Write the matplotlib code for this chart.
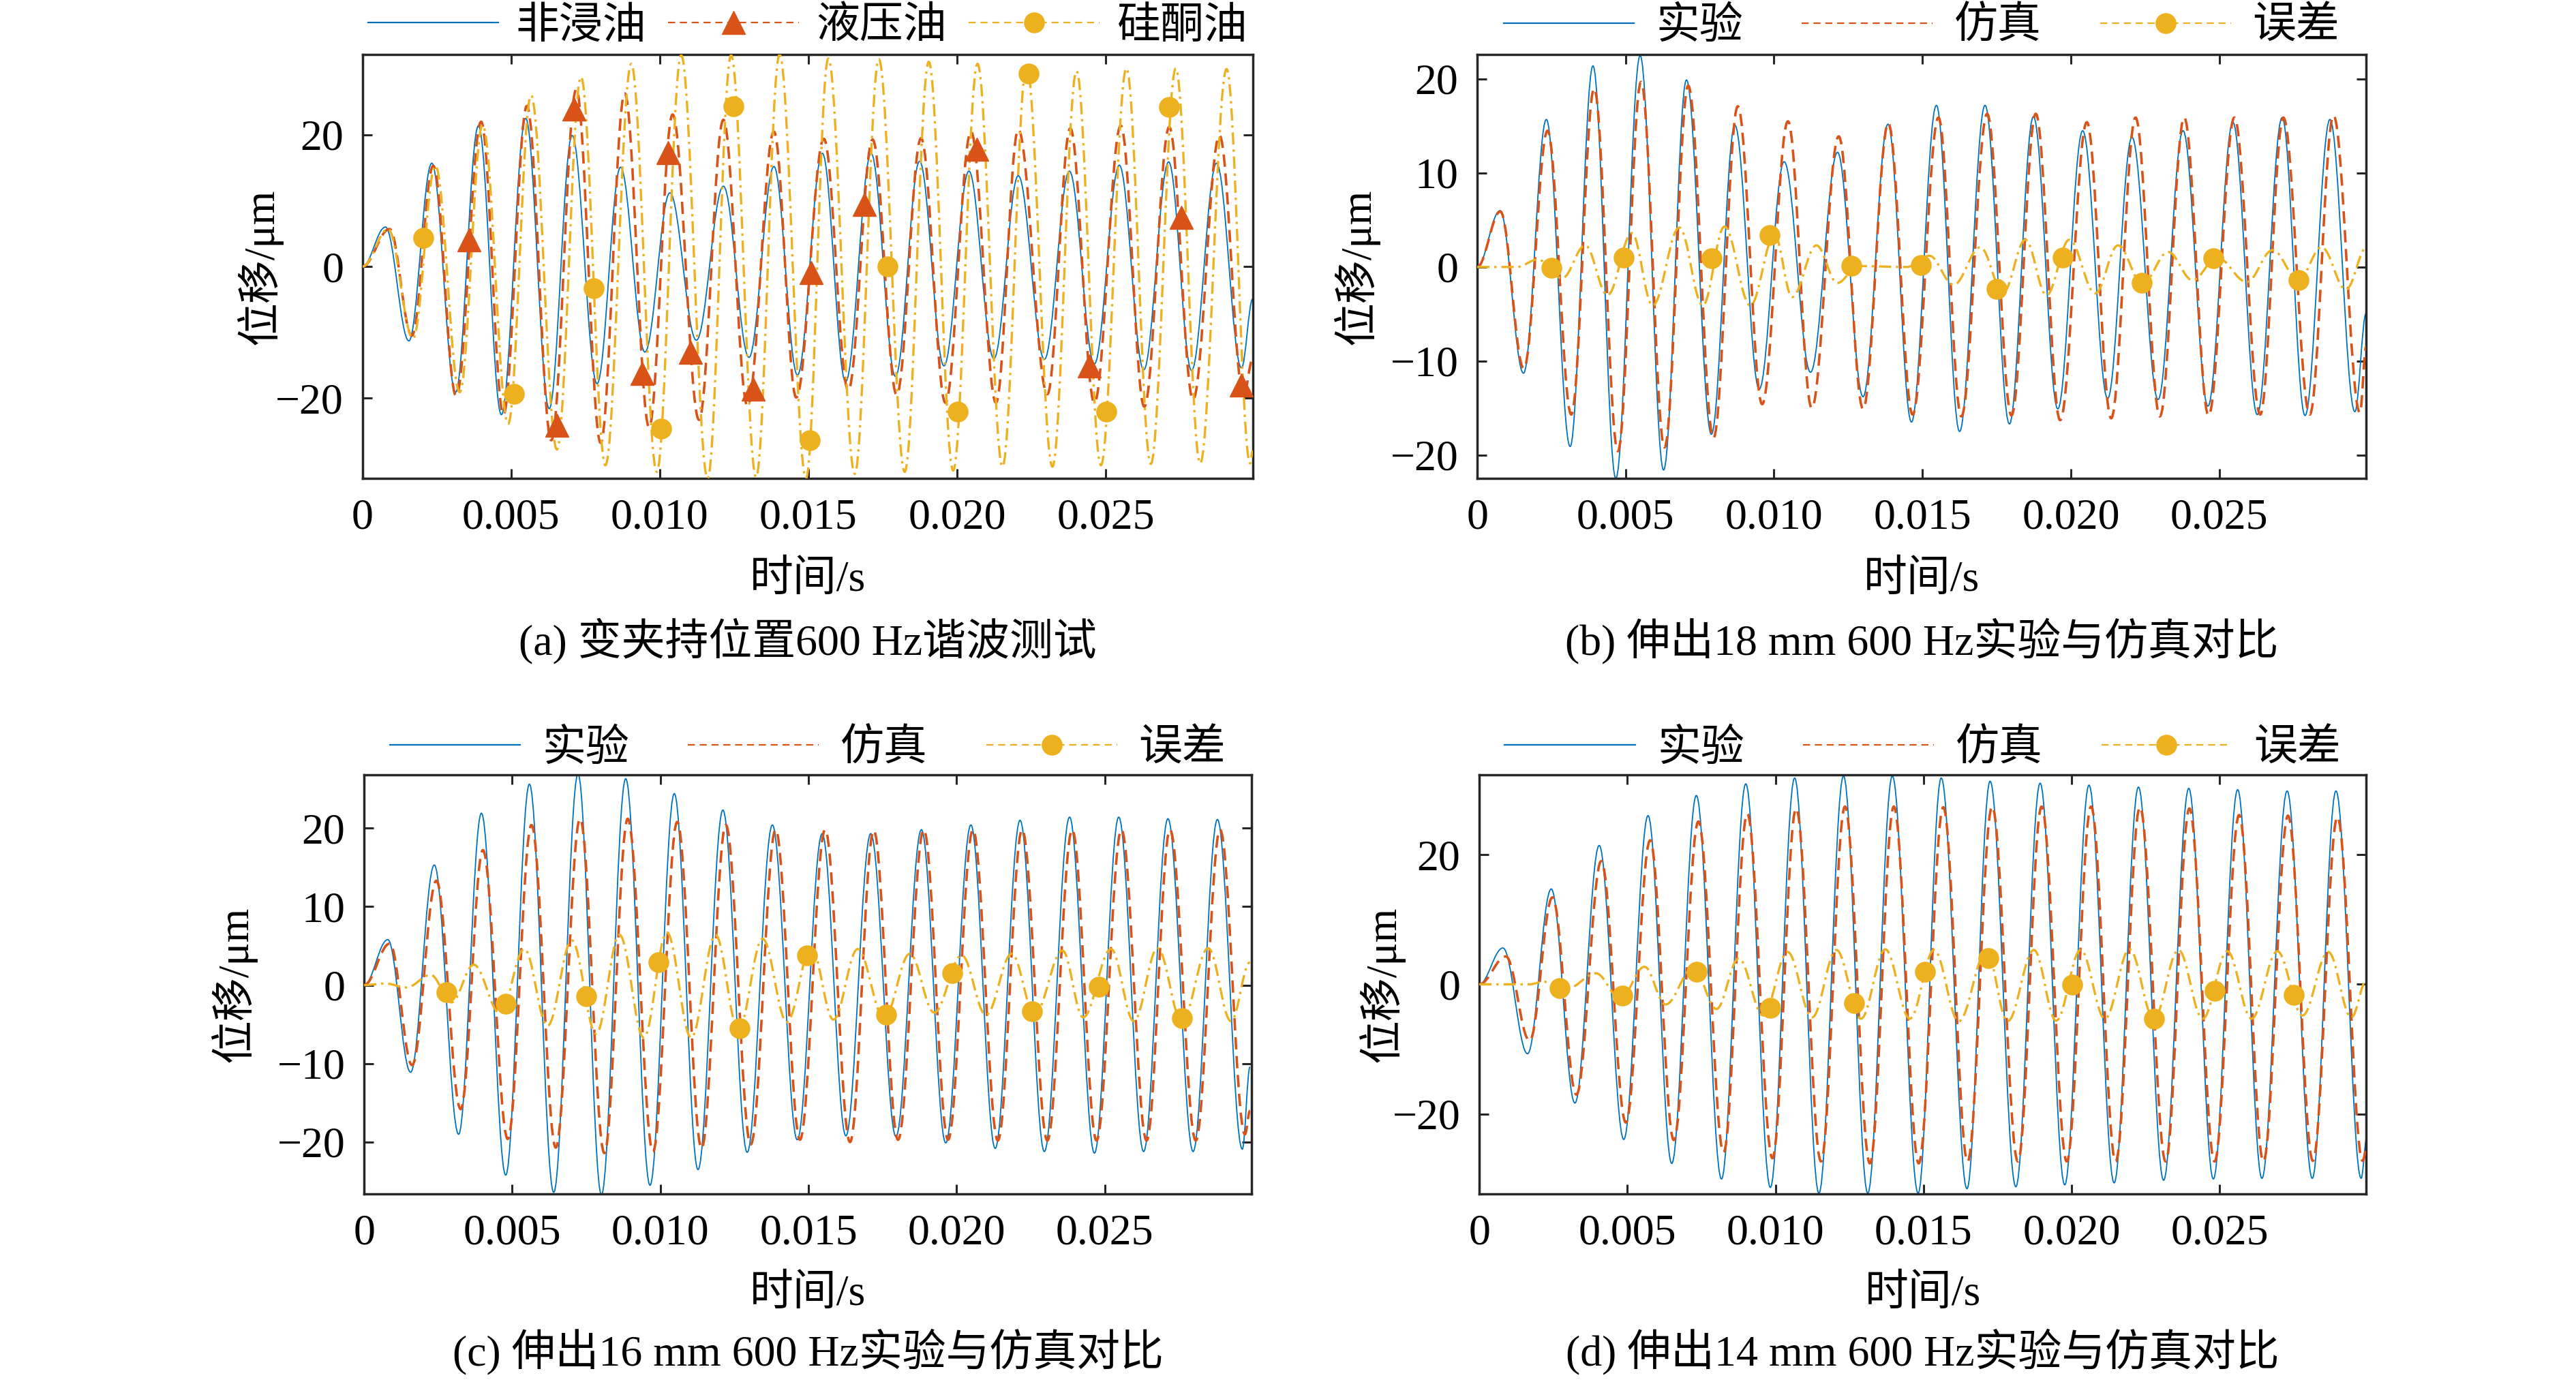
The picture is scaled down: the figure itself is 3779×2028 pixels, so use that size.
import numpy as np
import matplotlib
matplotlib.use("Agg")
import matplotlib.pyplot as plt
from matplotlib.path import Path
from matplotlib.patches import PathPatch
from matplotlib.lines import Line2D

plt.rcParams['font.family'] = ['Liberation Serif', 'Noto Sans CJK SC']
plt.rcParams['font.size'] = 46
plt.rcParams['axes.unicode_minus'] = True
plt.rcParams['lines.scale_dashes'] = False

BLUE = '#0072BD'
RED = '#D95319'
YEL = '#EDB120'
AX_C = '#262626'

# ---- data: extrema of each trace (time in ms, displacement in um) ----
# 18 mm, no oil (shared by panel a "非浸油" and panel b "实验")
t_exp18 = [0, 0.77, 1.56, 2.33, 3.13, 3.90, 4.67, 5.49, 6.28, 7.05, 7.89, 8.68, 9.50, 10.34, 11.23,
           12.14, 13.00, 13.84, 14.63, 15.47, 16.25, 17.11, 17.93, 18.74, 19.56, 20.40, 21.24, 22.06,
           22.94, 23.78, 24.62, 25.46, 26.28, 27.12, 27.89, 28.73, 29.57, 29.95]
y_exp18 = [0, 6.0, -11.3, 15.7, -19.1, 21.4, -22.5, 22.5, -21.6, 19.9, -17.8, 15.1, -13.0, 11.2, -11.2,
           12.2, -13.8, 15.2, -16.5, 17.2, -17.5, 17.2, -16.7, 16.0, -15.1, 14.5, -14.0, 13.8,
           -14.1, 14.5, -14.8, 15.4, -15.7, 15.9, -15.8, 15.7, -15.4, -4.9]

# panel a: hydraulic oil / silicone oil
t_hyd = [0, 0.91, 1.66, 2.38, 3.15, 3.99, 4.74, 5.53, 6.35, 7.19, 8.01, 8.82, 9.64, 10.43, 11.32,
         12.14, 12.95, 13.84, 14.59, 15.52, 16.34, 17.16, 17.97, 18.79, 19.61, 20.47, 21.31, 22.06,
         23.04, 23.81, 24.62, 25.51, 26.30, 27.14, 27.94, 28.83, 29.64, 29.95]
y_hyd = [0, 5.7, -10.5, 15.3, -19.7, 22.0, -22.5, 24.4, -26.4, 26.9, -26.8, 26.3, -24.4, 23.1, -23.3,
         22.3, -21.2, 20.5, -19.9, 19.4, -18.8, 19.3, -19.5, 19.5, -20.7, 20.5, -20.7, 20.8,
         -19.4, 21.0, -20.7, 21.4, -21.3, 21.2, -20.2, 19.9, -19.6, -14.0]
t_hyd_mk = [3.57, 6.54, 7.12, 9.41, 10.27, 11.04, 13.14, 15.10, 16.88, 20.66, 24.44, 27.54, 29.57]
y_hyd_mk = [4.1, -24.1, 23.9, -16.2, 17.3, -13.0, -18.6, -0.9, 9.4, 17.8, -15.1, 7.5, -18.0]

t_sil = [0, 0.86, 1.70, 2.45, 3.27, 4.04, 4.90, 5.67, 6.54, 7.35, 8.17, 9.04, 9.90, 10.72, 11.61,
         12.40, 13.24, 14.03, 14.92, 15.67, 16.56, 17.37, 18.24, 19.05, 19.87, 20.69, 21.53, 22.34,
         23.21, 24.02, 24.84, 25.70, 26.52, 27.36, 28.18, 29.07, 29.86, 29.95]
y_sil = [0, 5.7, -10.9, 15.3, -19.1, 21.5, -23.9, 26.0, -27.8, 28.8, -30.2, 30.8, -31.2, 32.1, -32.2,
         32.1, -32.0, 32.2, -32.2, 31.6, -31.5, 31.5, -31.2, 31.1, -31.0, 30.8, -30.4, 30.5,
         -30.4, 29.7, -30.2, 30.1, -30.0, 30.1, -29.9, 30.0, -29.9, -28.0]
t_sil_mk = [2.05, 5.09, 7.77, 10.04, 12.49, 15.05, 17.67, 20.03, 22.41, 25.02, 27.14]
y_sil_mk = [4.4, -19.3, -3.3, -24.6, 24.3, -26.4, 0.0, -22.0, 29.3, -22.0, 24.2]

# panel b: 18 mm simulation / error
t_sim18 = [0, 0.78, 1.57, 2.37, 3.17, 3.94, 4.74, 5.52, 6.31, 7.11, 7.96, 8.78, 9.60, 10.47, 11.27,
           12.18, 13.00, 13.85, 14.67, 15.54, 16.31, 17.18, 18.00, 18.82, 19.64, 20.54, 21.36, 22.18,
           23.00, 23.82, 24.64, 25.51, 26.38, 27.16, 28.05, 28.85, 29.74, 29.95]
y_sim18 = [0, 5.9, -10.8, 14.5, -15.7, 19.0, -19.6, 19.7, -19.2, 19.3, -18.2, 17.1, -14.6, 15.5, -15.0,
           13.9, -15.1, 15.3, -15.7, 15.9, -15.9, 16.3, -15.8, 16.3, -16.3, 15.4, -16.1, 15.9,
           -15.9, 15.9, -15.8, 15.9, -15.7, 15.9, -15.7, 16.1, -15.5, -8.5]
t_err18 = [0, 1.34, 2.04, 2.86, 3.64, 4.39, 5.21, 5.91, 6.81, 7.60, 8.33, 9.20, 10.02, 10.61, 11.43,
           12.13, 12.84, 14.48, 15.23, 16.05, 16.95, 17.72, 18.47, 19.18, 19.95, 20.82, 21.59, 22.41,
           23.28, 24.10, 24.93, 25.93, 26.80, 27.67, 28.45, 29.27, 29.97]
y_err18 = [0, 0.0, 0.8, -1.2, 2.3, -3.0, 3.6, -4.1, 4.2, -4.1, 4.3, -4.1, 3.4, -3.2, 2.3,
           -1.7, 0.1, 0.0, 1.2, -1.9, 2.1, -2.7, 2.9, -3.0, 2.9, -2.8, 2.3, -1.8,
           1.6, -1.4, 1.0, -1.6, 1.8, -1.4, 2.1, -2.4, 2.1]
t_err18_mk = [2.51, 4.93, 7.89, 9.86, 12.60, 14.95, 17.49, 19.72, 22.39, 24.81, 27.67]
y_err18_mk = [-0.1, 1.0, 0.9, 3.4, 0.1, 0.2, -2.3, 1.0, -1.7, 0.9, -1.4]

# panel c: 16 mm
t_exp16 = [0, 0.80, 1.57, 2.37, 3.19, 3.96, 4.78, 5.58, 6.40, 7.22, 8.01, 8.83, 9.65, 10.47, 11.27,
           12.11, 12.93, 13.78, 14.62, 15.46, 16.26, 17.10, 17.95, 18.81, 19.63, 20.48, 21.30, 22.14,
           22.96, 23.81, 24.65, 25.47, 26.31, 27.13, 27.98, 28.80, 29.64, 29.90]
y_exp16 = [0, 5.8, -11.1, 15.3, -19.0, 21.9, -24.2, 25.6, -26.4, 26.9, -26.7, 26.3, -25.5, 24.4, -23.5,
           22.3, -21.3, 20.4, -19.7, 19.3, -19.2, 19.3, -19.3, 19.8, -20.1, 20.4, -20.8, 21.0,
           -21.2, 21.4, -21.4, 21.4, -21.2, 21.2, -21.2, 21.1, -20.9, -10.4]
t_sim16 = [0, 0.87, 1.62, 2.44, 3.26, 4.01, 4.85, 5.65, 6.47, 7.29, 8.11, 8.90, 9.75, 10.57, 11.39,
           12.21, 13.05, 13.89, 14.71, 15.56, 16.40, 17.20, 18.02, 18.89, 19.71, 20.55, 21.39, 22.21,
           23.06, 23.90, 24.72, 25.56, 26.41, 27.20, 28.07, 28.89, 29.73, 29.90]
y_sim16 = [0, 5.3, -10.2, 13.3, -15.8, 17.2, -19.6, 20.4, -20.7, 21.2, -21.4, 21.2, -21.2, 20.8, -20.8,
           20.4, -20.3, 19.8, -19.7, 19.8, -20.0, 19.7, -19.7, 19.8, -19.7, 19.8, -19.8, 19.8,
           -19.8, 19.8, -19.8, 19.8, -19.8, 19.8, -19.8, 19.8, -19.0, -16.0]
t_err16 = [0, 0.73, 1.43, 2.25, 2.95, 3.70, 4.59, 5.41, 6.19, 7.01, 7.83, 8.62, 9.44, 10.22, 11.04,
           11.86, 12.63, 13.45, 14.27, 15.09, 15.84, 16.66, 17.55, 18.42, 19.24, 20.17, 20.99, 21.86,
           22.63, 23.57, 24.27, 25.21, 25.98, 26.78, 27.60, 28.49, 29.26, 29.90]
y_err16 = [0, 0.2, -0.3, 1.3, -2.2, 2.6, -3.6, 4.6, -5.2, 5.7, -6.2, 6.4, -6.7, 6.7, -6.7,
           6.4, -5.7, 5.9, -4.7, 4.8, -4.4, 4.6, -4.2, 4.0, -3.5, 3.8, -3.8, 4.0,
           -3.7, 4.4, -4.1, 4.6, -4.6, 4.7, -4.6, 4.7, -4.6, 2.9]
t_err16_mk = [2.79, 4.78, 7.50, 9.93, 12.68, 14.95, 17.62, 19.85, 22.54, 24.79, 27.60]
y_err16_mk = [-0.9, -2.4, -1.4, 2.9, -5.5, 3.8, -3.8, 1.5, -3.3, -0.2, -4.2]

# panel d: 14 mm
t_exp14 = [0, 0.80, 1.63, 2.43, 3.23, 4.05, 4.88, 5.70, 6.50, 7.33, 8.18, 9.00, 9.83, 10.65, 11.47,
           12.30, 13.12, 13.95, 14.82, 15.60, 16.47, 17.25, 18.12, 18.94, 19.77, 20.59, 21.44, 22.26,
           23.11, 23.96, 24.79, 25.61, 26.43, 27.28, 28.13, 28.93, 29.78, 29.97]
y_exp14 = [0, 5.6, -10.7, 14.7, -18.3, 21.4, -23.9, 26.0, -27.6, 29.1, -30.0, 30.9, -31.3, 31.8, -32.2,
           32.1, -32.2, 32.1, -32.2, 31.8, -31.5, 31.3, -31.2, 31.0, -30.9, 30.7, -30.6, 30.4,
           -30.2, 30.2, -30.0, 30.0, -29.9, 29.8, -29.9, 29.8, -29.9, -23.7]
t_sim14 = [0, 0.90, 1.70, 2.47, 3.28, 4.12, 4.95, 5.77, 6.57, 7.40, 8.25, 9.05, 9.90, 10.70, 11.54,
           12.35, 13.19, 14.00, 14.84, 15.67, 16.49, 17.32, 18.19, 18.99, 19.84, 20.66, 21.49, 22.31,
           23.18, 23.98, 24.83, 25.66, 26.48, 27.31, 28.15, 28.98, 29.83, 29.97]
y_sim14 = [0, 4.3, -8.7, 13.4, -17.0, 19.0, -21.3, 22.2, -24.0, 25.1, -25.9, 26.3, -26.8, 27.1, -27.3,
           27.4, -27.6, 27.4, -27.6, 27.3, -27.3, 27.4, -27.3, 27.4, -27.3, 27.4, -27.3, 27.3,
           -27.3, 27.1, -27.3, 26.1, -27.3, 26.0, -27.2, 25.8, -27.2, -25.3]
t_err14 = [0, 1.70, 2.17, 2.99, 3.94, 4.76, 5.58, 6.29, 7.23, 8.01, 8.76, 9.59, 10.41, 11.24, 12.06,
           12.89, 13.71, 14.54, 15.36, 16.19, 17.13, 17.84, 18.73, 19.48, 20.31, 21.13, 21.96, 22.78,
           23.61, 24.43, 25.26, 26.08, 26.95, 27.80, 28.67, 29.45, 29.97]
y_err14 = [0, 0.0, 0.4, -0.6, 1.7, -2.2, 2.7, -3.1, 2.6, -3.8, 4.0, -4.8, 5.0, -5.1, 5.3,
           -5.3, 5.4, -5.3, 5.3, -5.7, 5.1, -5.7, 5.3, -5.6, 5.3, -5.3, 5.4, -5.3,
           5.3, -5.3, 5.1, -5.3, 5.1, -4.8, 5.0, -5.1, 0.7]
t_err14_mk = [2.71, 4.83, 7.35, 9.83, 12.65, 15.06, 17.20, 20.03, 22.78, 24.83, 27.50]
y_err14_mk = [-0.6, -1.7, 1.9, -3.6, -2.9, 1.9, 4.0, -0.1, -5.3, -1.0, -1.6]

xticks = [0, 0.005, 0.010, 0.015, 0.020, 0.025]
xticklabels = ['0', '0.005', '0.010', '0.015', '0.020', '0.025']
captions = ['(a) 变夹持位置600 Hz谐波测试', '(b) 伸出18 mm 600 Hz实验与仿真对比',
            '(c) 伸出16 mm 600 Hz实验与仿真对比', '(d) 伸出14 mm 600 Hz实验与仿真对比']

STY_BLUE = dict(color=BLUE, lw=1.3, ls='-')
STY_RED = dict(color=RED, lw=2.6, ls=(0, (13, 7)))
STY_YEL = dict(color=YEL, lw=2.4, ls=(0, (13, 5, 2.5, 5)))
K = 0.3634  # bezier handle giving a half-cosine between extrema


def wave(ax, t_ms, y, sty, z):
    t = np.asarray(t_ms) / 1000.0
    y = np.asarray(y, dtype=float)
    verts = [(t[0], y[0])]
    codes = [Path.MOVETO]
    for i in range(len(t) - 1):
        dt = t[i + 1] - t[i]
        verts += [(t[i] + K * dt, y[i]), (t[i + 1] - K * dt, y[i + 1]), (t[i + 1], y[i + 1])]
        codes += [Path.CURVE4] * 3
    p = PathPatch(Path(verts, codes), fill=False, edgecolor=sty['color'], lw=sty['lw'],
                  linestyle=sty['ls'], joinstyle='round', zorder=z)
    ax.add_patch(p)


def marks(ax, t_ms, y, color, marker, ms):
    ax.plot(np.asarray(t_ms) / 1000.0, y, ls='none', marker=marker, ms=ms,
            color=color, mec=color, zorder=6, clip_on=False)


def style(ax, ylim, yticks, ylab_x):
    ax.set_xlim(0, 0.02995)
    ax.set_ylim(*ylim)
    ax.set_xticks(xticks)
    ax.set_xticklabels(xticklabels)
    ax.set_yticks(yticks)
    ax.tick_params(direction='in', length=10, width=2.2, top=True, right=True,
                   color=AX_C, labelcolor='black')
    ax.tick_params(axis='x', pad=21)
    ax.tick_params(axis='y', pad=20)
    for s in ax.spines.values():
        s.set_linewidth(2.5)
        s.set_color(AX_C)
    ax.set_xlabel('时间/s', va='center')
    ax.xaxis.set_label_coords(0.5, -0.24)
    ax.set_ylabel('位移/μm', va='center')
    ax.yaxis.set_label_coords(ylab_x, 0.5)


fig = plt.figure(figsize=(37.8, 20.28), dpi=100)
axa = fig.add_axes([0.1407, 0.6538, 0.3455, 0.3067])
axb = fig.add_axes([0.5733, 0.6538, 0.3450, 0.3067])
axc = fig.add_axes([0.1413, 0.1361, 0.3444, 0.3033])
axd = fig.add_axes([0.5741, 0.1361, 0.3442, 0.3033])

# panel a
wave(axa, t_exp18, y_exp18, STY_BLUE, 2)
wave(axa, t_hyd, y_hyd, STY_RED, 3)
wave(axa, t_sil, y_sil, STY_YEL, 4)
marks(axa, t_hyd_mk, y_hyd_mk, RED, '^', 24)
marks(axa, t_sil_mk, y_sil_mk, YEL, 'o', 21)

# panels b-d
for ax, te, ye, ts, ys, tr, yr, tm, ym in [
        (axb, t_exp18, y_exp18, t_sim18, y_sim18, t_err18, y_err18, t_err18_mk, y_err18_mk),
        (axc, t_exp16, y_exp16, t_sim16, y_sim16, t_err16, y_err16, t_err16_mk, y_err16_mk),
        (axd, t_exp14, y_exp14, t_sim14, y_sim14, t_err14, y_err14, t_err14_mk, y_err14_mk)]:
    wave(ax, te, ye, STY_BLUE, 2)
    wave(ax, ts, ys, STY_RED, 3)
    wave(ax, tr, yr, STY_YEL, 4)
    marks(ax, tm, ym, YEL, 'o', 21)

style(axa, (-32.2, 32.2), [-20, 0, 20], -0.116)
style(axb, (-22.5, 22.6), [-20, -10, 0, 10, 20], -0.136)
style(axc, (-26.6, 26.8), [-20, -10, 0, 10, 20], -0.147)
style(axd, (-32.3, 32.3), [-20, 0, 20], -0.11)

leg_blue = Line2D([0], [0], color=BLUE, lw=1.6)
leg_red = Line2D([0], [0], color=RED, lw=1.6, ls=(0, (7.5, 5)))
leg_red_mk = Line2D([0], [0], color=RED, lw=1.6, ls=(0, (7.5, 5)), marker='^', ms=24)
leg_yel_mk = Line2D([0], [0], color=YEL, lw=1.6, ls=(0, (7.5, 5)), marker='o', ms=21)

axa.legend([leg_blue, leg_red_mk, leg_yel_mk], ['非浸油', '液压油', '硅酮油'], loc='center',
           bbox_to_anchor=(0.5, 1.064), ncol=3, frameon=False, handlelength=3.0,
           handletextpad=0.4, columnspacing=0.5, borderpad=0, borderaxespad=0, numpoints=1)
for ax, ly in [(axb, 1.064), (axc, 1.060), (axd, 1.060)]:
    ax.legend([leg_blue, leg_red, leg_yel_mk], ['实验', '仿真', '误差'], loc='center',
              bbox_to_anchor=(0.5, ly), ncol=3, frameon=False, handlelength=3.0,
              handletextpad=0.5, columnspacing=1.35, borderpad=0, borderaxespad=0, numpoints=1)

for ax, cap, cy in [(axa, captions[0], -0.3826), (axb, captions[1], -0.3826),
                    (axc, captions[2], -0.377), (axd, captions[3], -0.377)]:
    ax.text(0.5, cy, cap, transform=ax.transAxes, ha='center', va='center')

fig.savefig('out.png', dpi=100)
